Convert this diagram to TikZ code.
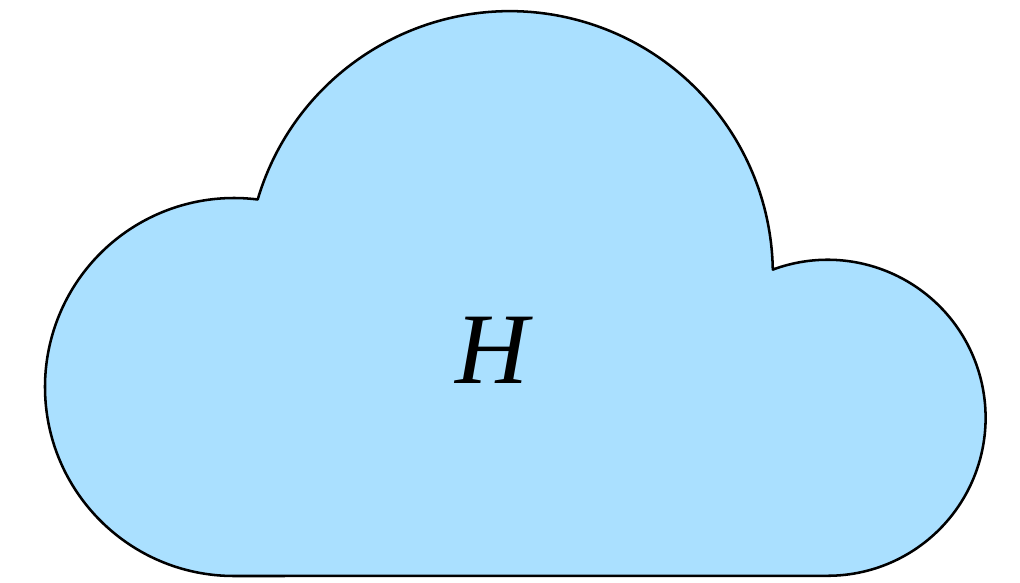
\documentclass[tikz,border=0pt]{standalone}
\usepackage{fontspec}
\setmainfont{Liberation Serif}
\usetikzlibrary{positioning}
\definecolor{puffblue}{HTML}{AAE0FF}
\tikzset{
  puff/.style  ={draw=black, fill=puffblue, line width=1.9pt, line join=round},
  hlabel/.style={font=\fontsize{76}{80}\selectfont\itshape, inner sep=0pt},
}
\begin{document}
\begin{tikzpicture}[x=0.75pt,y=0.75pt]
  \useasboundingbox (0,0) rectangle (1020,582);
  % left lobe, big top lobe, right lobe, flat bottom
  \draw[puff] (234,6) arc[start angle=270,end angle=82.8,radius=189]
    arc[start angle=163.5,end angle=1,radius=263]
    arc[start angle=110.3,end angle=-90,radius=158] -- cycle;
  \node[hlabel] (h) at (492,232) {H};
\end{tikzpicture}
\end{document}
